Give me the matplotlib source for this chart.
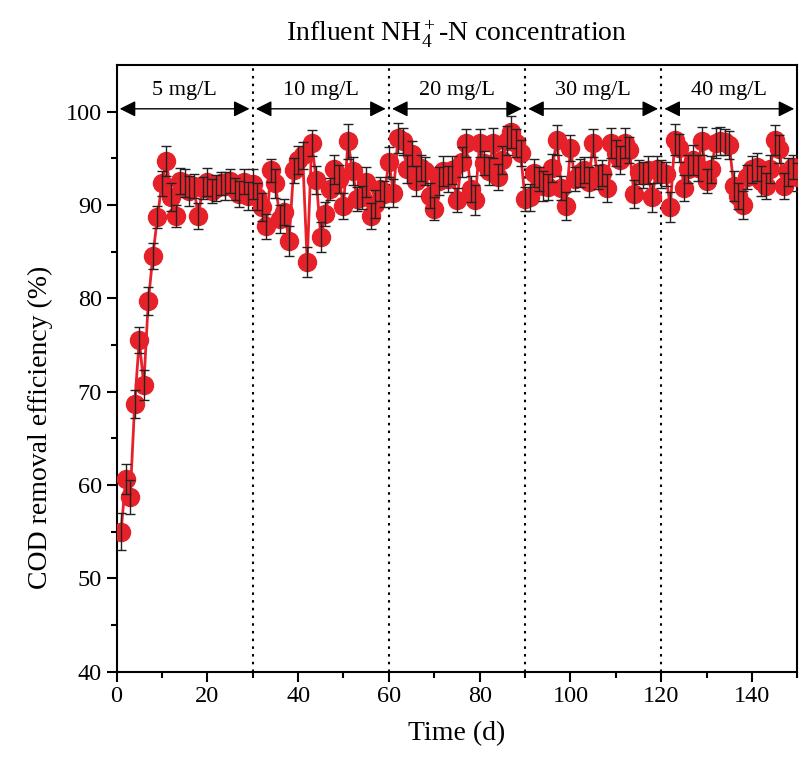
import matplotlib
matplotlib.use("Agg")
import matplotlib.pyplot as plt

plt.rcParams['font.family'] = ['Liberation Serif', 'DejaVu Serif']
plt.rcParams['mathtext.fontset'] = 'custom'
plt.rcParams['mathtext.rm'] = 'Liberation Serif'
plt.rcParams['mathtext.it'] = 'Liberation Serif:italic'

# COD removal efficiency (%) per day
days = list(range(1, 151))
cod = [
    55.0, 60.6, 58.7, 68.7, 75.5, 70.7, 79.7, 84.5, 88.7, 92.3,
    94.7, 90.8, 88.8, 92.6, 92.3, 91.5, 92.0, 88.8, 91.8, 92.5,
    91.5, 91.8, 92.3, 92.0, 92.6, 91.7, 91.2, 92.5, 91.0, 92.2,
    90.9, 89.8, 87.7, 93.7, 92.3, 88.5, 89.2, 86.1, 93.7, 94.8,
    95.3, 83.9, 96.6, 92.7, 86.6, 89.0, 91.7, 93.8, 92.8, 89.9,
    96.8, 93.6, 90.6, 90.8, 92.5, 88.8, 90.1, 91.7, 91.2, 94.6,
    91.3, 97.2, 96.8, 93.8, 95.5, 92.6, 94.0, 93.6, 91.0, 89.6,
    92.6, 93.6, 92.8, 93.7, 90.5, 94.6, 96.6, 91.7, 90.5, 96.6,
    94.5, 93.6, 96.6, 93.0, 94.8, 96.9, 97.8, 96.6, 95.6, 90.6,
    90.8, 93.4, 92.8, 92.0, 91.9, 94.0, 97.0, 91.8, 89.9, 96.1,
    92.8, 93.4, 93.7, 92.5, 96.6, 93.0, 93.4, 91.8, 96.6, 95.6,
    94.8, 96.6, 95.9, 91.2, 93.5, 93.2, 93.7, 90.8, 93.8, 93.3,
    93.3, 89.8, 97.0, 96.1, 91.8, 93.9, 94.8, 94.0, 96.8, 92.6,
    93.8, 96.6, 96.8, 96.7, 96.4, 92.0, 91.0, 90.0, 93.0, 93.8,
    94.1, 92.6, 92.0, 93.8, 97.0, 96.0, 92.0, 93.5, 94.1, 93.0,
]
err = [
    2.0, 1.6, 1.8, 1.5, 1.4, 1.6, 1.5, 1.4, 1.2, 1.3,
    1.6, 1.5, 1.2, 1.4, 1.5, 1.6, 1.3, 1.4, 1.2, 1.5,
    1.3, 1.4, 1.2, 1.5, 1.3, 1.2, 1.4, 1.3, 1.5, 1.6,
    1.4, 1.5, 1.3, 1.2, 1.6, 1.5, 1.4, 1.6, 1.3, 1.5,
    1.4, 1.6, 1.4, 1.5, 1.6, 1.3, 1.2, 1.6, 1.5, 1.4,
    1.9, 1.5, 1.3, 1.2, 1.6, 1.4, 1.5, 1.3, 1.4, 1.6,
    1.5, 1.6, 1.4, 1.5, 1.3, 1.6, 1.4, 1.5, 1.3, 1.2,
    1.5, 1.6, 1.4, 1.5, 1.3, 1.6, 1.5, 1.4, 1.6, 1.5,
    1.3, 1.5, 1.6, 1.4, 1.5, 1.6, 1.7, 1.5, 1.4, 1.3,
    1.4, 1.5, 1.3, 1.6, 1.4, 1.5, 1.6, 1.3, 1.5, 1.4,
    1.3, 1.5, 1.4, 1.6, 1.5, 1.3, 1.4, 1.5, 1.6, 1.4,
    1.5, 1.6, 1.4, 1.5, 1.3, 1.4, 1.5, 1.6, 1.4, 1.5,
    1.3, 1.6, 1.7, 1.5, 1.4, 1.5, 1.6, 1.4, 1.5, 1.3,
    1.4, 1.6, 1.5, 1.4, 1.5, 1.6, 1.4, 1.5, 1.3, 1.4,
    1.5, 1.6, 1.4, 1.5, 1.6, 1.5, 1.4, 1.5, 1.3, 1.5,
]

# influent NH4+-N stages
stage_bounds = [0, 30, 60, 90, 120, 150]
stage_labels = ['5 mg/L', '10 mg/L', '20 mg/L', '30 mg/L', '40 mg/L']

red = '#e62129'

fig = plt.figure(figsize=(8.01, 7.64), dpi=100)
ax = fig.add_axes([0.1455, 0.121, 0.85, 0.794])

ax.plot(days, cod, '-', color=red, lw=2, zorder=2)
ax.plot(days, cod, 'o', color=red, ms=13, mec=red, zorder=3)
ax.errorbar(days, cod, yerr=err, fmt='none', ecolor='#222222', elinewidth=1,
            capsize=3.8, capthick=1, zorder=4)

for b in stage_bounds[1:-1]:
    ax.axvline(b, color='black', ls=(0, (1.2, 2.5)), lw=1.5, zorder=1)

for i, lab in enumerate(stage_labels):
    x0 = stage_bounds[i] + 0.7
    x1 = stage_bounds[i + 1] - 0.7
    ax.annotate('', xy=(x1, 100.3), xytext=(x0, 100.3),
                arrowprops=dict(arrowstyle='<|-|>', color='black', lw=1,
                                mutation_scale=24, shrinkA=0, shrinkB=0))
    ax.text((stage_bounds[i] + stage_bounds[i + 1]) / 2, 101.2, lab,
            ha='center', va='bottom', fontsize=16)

ax.set_xlim(0, 150)
ax.set_ylim(40, 105)
ax.set_xticks(range(0, 141, 20))
ax.set_xticks(range(10, 151, 20), minor=True)
ax.set_yticks(range(40, 101, 10))
ax.set_yticks(range(45, 101, 10), minor=True)
ax.tick_params(which='major', direction='out', length=7, width=1.5, labelsize=17.5)
ax.tick_params(which='minor', direction='out', length=4, width=1.5)
for s in ax.spines.values():
    s.set_linewidth(1.5)

ax.set_xlabel('Time (d)', fontsize=20, labelpad=10)
ax.set_ylabel('COD removal efficiency (%)', fontsize=20)
ax.yaxis.set_label_coords(-0.093, 0.403)
ax.set_title(r'Influent NH$_4^+$-N concentration', fontsize=20, pad=17)

fig.savefig('out.png', dpi=100)
